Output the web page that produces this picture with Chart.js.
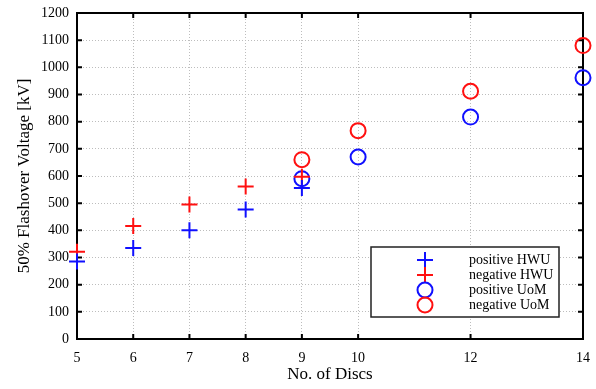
<!DOCTYPE html>
<html lang="en">
<head>
  <meta charset="UTF-8" />
  <title>Flashover Voltage</title>
  <script src="https://cdn.jsdelivr.net/npm/chart.js"></script>
  <style>
    html, body { margin: 0; padding: 0; background: #fff; }
    #wrap { width: 596px; height: 389px; }
  </style>
</head>
<body>
  <div id="wrap"><canvas id="chart"></canvas></div>

  <script>
    // number of discs in the string
    const discsHWU = [5, 6, 7, 8, 9];
    const discsUoM = [9, 10, 12, 14];
    const xTicks = [5, 6, 7, 8, 9, 10, 12, 14];

    // 50% flashover voltage, kV
    const posHWU = [285, 335, 400, 477, 556];
    const negHWU = [321, 416, 495, 561, 597];
    const posUoM = [590, 670, 817, 962];
    const negUoM = [660, 767, 912, 1080];

    const labels = ["positive HWU", "negative HWU", "positive UoM", "negative UoM"];

    const toPoints = (xs, ys) => xs.map((x, i) => ({ x: x, y: ys[i] }));
    const serif = "'Liberation Serif', 'DejaVu Serif', serif";

    const series = [
      { label: labels[0], data: toPoints(discsHWU, posHWU), color: "#1010ff", style: "cross", r: 8 },
      { label: labels[1], data: toPoints(discsHWU, negHWU), color: "#ff1010", style: "cross", r: 8 },
      { label: labels[2], data: toPoints(discsUoM, posUoM), color: "#1010ff", style: "circle", r: 7.5 },
      { label: labels[3], data: toPoints(discsUoM, negUoM), color: "#ff1010", style: "circle", r: 7.5 }
    ];

    // frame and inward tick marks on all four sides
    const framePlugin = {
      id: "frame",
      beforeDatasetsDraw(chart) {
        const { ctx, chartArea: a, scales } = chart;
        ctx.save();
        ctx.strokeStyle = "#000";
        ctx.lineWidth = 2;
        ctx.strokeRect(a.left, a.top, a.right - a.left, a.bottom - a.top);
        const len = 5;
        ctx.beginPath();
        scales.x.ticks.forEach(t => {
          const px = scales.x.getPixelForValue(t.value);
          ctx.moveTo(px, a.bottom); ctx.lineTo(px, a.bottom - len);
          ctx.moveTo(px, a.top); ctx.lineTo(px, a.top + len);
        });
        scales.y.ticks.forEach(t => {
          const py = scales.y.getPixelForValue(t.value);
          ctx.moveTo(a.left, py); ctx.lineTo(a.left + len, py);
          ctx.moveTo(a.right, py); ctx.lineTo(a.right - len, py);
        });
        ctx.stroke();
        ctx.restore();
      }
    };

    // boxed legend inside the plot, bottom right
    const legendPlugin = {
      id: "boxLegend",
      afterDraw(chart) {
        const { ctx } = chart;
        const bx = 371, by = 247, bw = 188, bh = 70;
        ctx.save();
        ctx.fillStyle = "#fff";
        ctx.fillRect(bx, by, bw, bh);
        ctx.strokeStyle = "#222";
        ctx.lineWidth = 1.5;
        ctx.strokeRect(bx, by, bw, bh);
        ctx.font = "14px " + serif;
        ctx.textBaseline = "middle";
        ctx.textAlign = "left";
        series.forEach((s, i) => {
          const cy = by + 13 + i * 15;
          ctx.strokeStyle = s.color;
          ctx.fillStyle = "rgba(0,0,0,0)";
          ctx.lineWidth = 2;
          Chart.helpers.drawPoint(ctx, { pointStyle: s.style, radius: s.r, borderWidth: 2 }, 425, cy);
          ctx.fillStyle = "#000";
          ctx.fillText(s.label, 469, cy);
        });
        ctx.restore();
      }
    };

    new Chart(document.getElementById("chart"), {
      type: "scatter",
      data: {
        datasets: series.map(s => ({
          label: s.label,
          data: s.data,
          pointStyle: s.style,
          pointRadius: s.r,
          pointHoverRadius: s.r,
          borderColor: s.color,
          backgroundColor: "rgba(0,0,0,0)",
          pointBorderWidth: 2,
          clip: false
        }))
      },
      options: {
        responsive: true,
        maintainAspectRatio: false,
        animation: false,
        layout: { padding: 0 },
        plugins: { legend: { display: false }, tooltip: { enabled: false } },
        scales: {
          x: {
            type: "linear",
            min: 5,
            max: 14,
            afterBuildTicks: s => { s.ticks = xTicks.map(v => ({ value: v })); },
            afterFit: s => { s.height = 50; s.paddingRight = 13; s.paddingLeft = 0; },
            grid: { color: "#bdbdbd", lineWidth: 1, drawTicks: false },
            border: { display: false, dash: [1, 2] },
            ticks: { color: "#000", padding: 11, font: { family: serif, size: 14 }, maxRotation: 0, callback: v => String(v) },
            title: { display: true, text: "No. of Discs", color: "#000", font: { family: serif, size: 17 }, padding: { top: 5 } }
          },
          y: {
            min: 0,
            max: 1200,
            afterFit: s => { s.width = 77; s.paddingTop = 13; s.paddingBottom = 0; },
            grid: { color: "#bdbdbd", lineWidth: 1, drawTicks: false },
            border: { display: false, dash: [1, 2] },
            ticks: { color: "#000", stepSize: 100, padding: 8, font: { family: serif, size: 14 }, callback: v => String(v) },
            title: { display: true, text: "50% Flashover Voltage [kV]", color: "#000", font: { family: serif, size: 17 }, padding: { top: 14, bottom: 0 } }
          }
        }
      },
      plugins: [framePlugin, legendPlugin]
    });
  </script>
</body>
</html>
